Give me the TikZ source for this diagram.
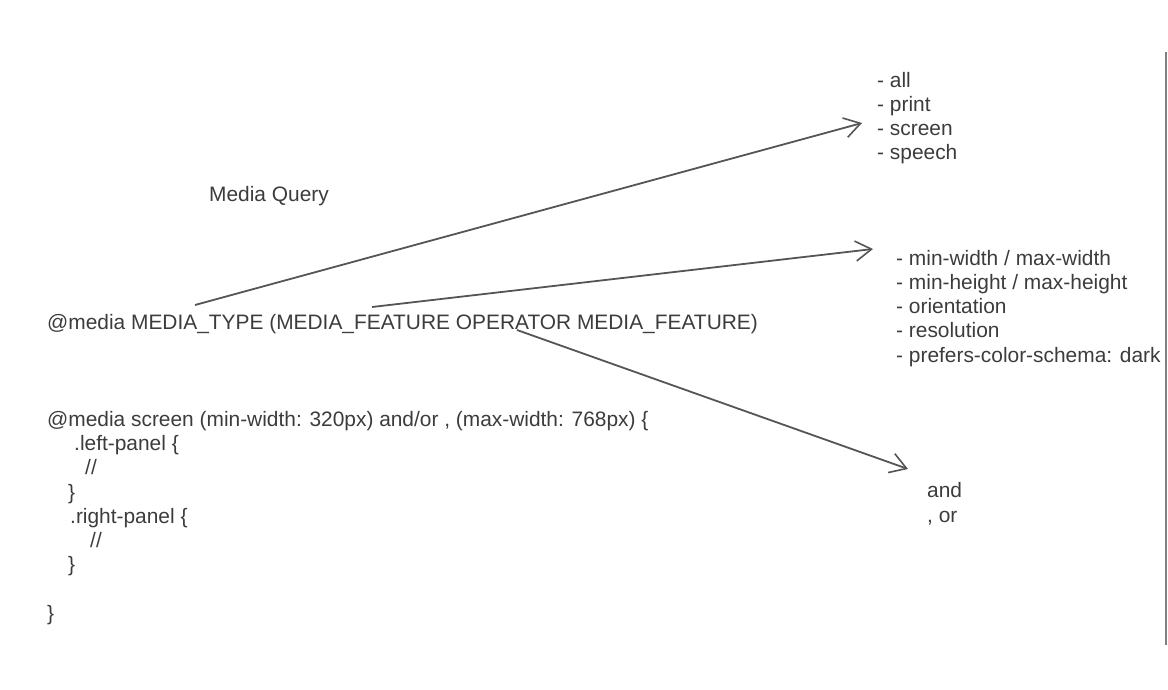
\documentclass[tikz,border=0pt]{standalone}
\usepackage{fontspec}
\setmainfont{Liberation Sans}
\usetikzlibrary{arrows.meta}
\definecolor{inkgray}{HTML}{3C3C3C}
\definecolor{pengray}{HTML}{555555}

\begin{document}
\begin{tikzpicture}[x=1pt,y=-1pt,
    every node/.style={inner sep=0pt, text=inkgray, align=left, anchor=base west,
      font=\fontsize{20.9}{24.2}\selectfont},
    pen/.style={draw=pengray, line width=1.8pt,
      -{Straight Barb[length=16pt,width=20pt,line width=1.6pt]}}]

    \useasboundingbox (0,0) rectangle (1168,690);

    % base of a multi-line node = base of its last line
    \node (title) at (209,201) {Media Query};
    \node (syntax) at (47,329) {@media MEDIA\_TYPE (MEDIA\_FEATURE OPERATOR MEDIA\_FEATURE)};
    \node (example) at (47,620) {@media screen (min-width: 320px) and/or , (max-width: 768px) \{\\
      \hspace*{27pt}.left-panel \{\\
      \hspace*{38pt}//\\
      \hspace*{21pt}\}\\
      \hspace*{23pt}.right-panel \{\\
      \hspace*{43pt}//\\
      \hspace*{21pt}\}\\[24.2pt]
      \}};

    \node (types) at (877,160) {- all\\- print\\- screen\\- speech};
    \node (features) at (896,362) {- min-width / max-width\\- min-height / max-height\\- orientation\\- resolution\\- prefers-color-schema: dark};
    \node (operators) at (927,522) {and\\, or};

    \coordinate (typeFrom) at (195,305);
    \coordinate (typeTo) at (862,123);
    \coordinate (featureFrom) at (372,307);
    \coordinate (featureTo) at (873,249);
    \coordinate (operatorFrom) at (517,330);
    \coordinate (operatorTo) at (908,469);

    \draw[pen] (typeFrom) -- (typeTo);
    \draw[pen] (featureFrom) -- (featureTo);
    \draw[pen] (operatorFrom) -- (operatorTo);

    \draw[draw=gray, line width=2pt] (1166,52) -- (1166,645);

  \end{tikzpicture}
\end{document}
